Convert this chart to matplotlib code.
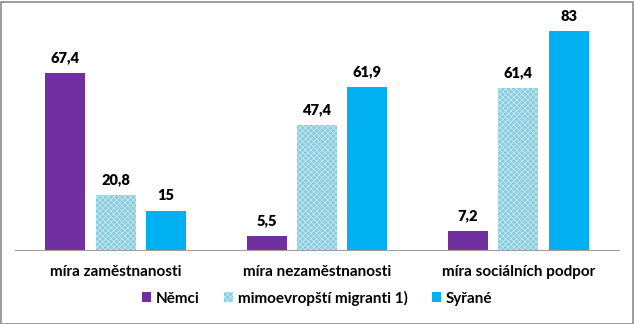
import matplotlib
matplotlib.use("Agg")
import matplotlib.pyplot as plt
import numpy as np

categories = ["míra zaměstnanosti", "míra nezaměstnanosti", "míra sociálních podpor"]
series_names = ["Němci", "mimoevropští migranti 1)", "Syřané"]
nemci = [67.4, 5.5, 7.2]
migranti = [20.8, 47.4, 61.4]
syrane = [15, 61.9, 83]

colors = ["#7030A0", "#88CCDD", "#00B0F0"]

plt.rcParams["font.family"] = ["Lato", "DejaVu Sans"]
plt.rcParams["hatch.color"] = "#C4E8F1"
plt.rcParams["hatch.linewidth"] = 0.6

fig = plt.figure(figsize=(6.34, 3.24), dpi=100)
ax = fig.add_axes([15 / 634, 1 - 250 / 324, 604 / 634, 237 / 324])

x = np.arange(len(categories))
slot = 0.25
width = 0.2
all_series = [nemci, migranti, syrane]
for i, (vals, name, col) in enumerate(zip(all_series, series_names, colors)):
    pos = x + (i - 1) * slot
    kw = dict(hatch="xxxxxx") if i == 1 else {}
    bars = ax.bar(pos, vals, width, color=col, label=name, linewidth=0, **kw)
    for b, v in zip(bars, vals):
        txt = f"{v:g}".replace(".", ",")
        ax.text(b.get_x() + b.get_width() / 2, v + 3.3, txt, ha="center",
                va="bottom", fontsize=10.5, fontweight="heavy")

ax.set_xlim(-0.5, 2.5)
ax.set_ylim(0, 90)
for s in ["top", "right", "left"]:
    ax.spines[s].set_visible(False)
ax.spines["bottom"].set_color("#a0a0a0")
ax.set_yticks([])
ax.set_xticks(x)
ax.set_xticklabels(categories, fontsize=11, fontweight="bold")
ax.tick_params(axis="x", length=0, pad=11)

leg = fig.legend(loc="center", bbox_to_anchor=(0.5, 1 - 298 / 324), ncol=3,
                 frameon=False, handlelength=0.6, handleheight=0.6,
                 columnspacing=1.6, handletextpad=0.3,
                 prop={"weight": "bold", "size": 11})

fig.patches.append(plt.Rectangle((0.5 / 634, 0.5 / 324), 632 / 634, 322 / 324,
                                 transform=fig.transFigure, fill=False,
                                 edgecolor="#8c8c8c", linewidth=1.2))

fig.savefig("out.png", dpi=100)
